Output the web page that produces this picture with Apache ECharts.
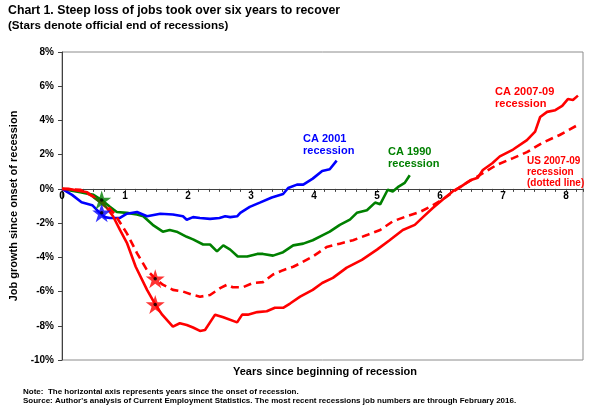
<!DOCTYPE html>
<html>
<head>
<meta charset="utf-8">
<script src="https://cdn.jsdelivr.net/npm/echarts@6/dist/echarts.min.js"></script>
<style>
  html, body { margin: 0; padding: 0; background: #fff; }
  #chart { width: 600px; height: 408px; }
</style>
</head>
<body>
<div id="chart"></div>
<script>
// Years since onset of recession, and job growth (%)
const ca2001Years = [0, 0.16, 0.31, 0.48, 0.6, 0.68, 0.76, 0.92, 1.03, 1.19, 1.35, 1.56, 1.76, 1.92, 1.98, 2.08, 2.19, 2.35, 2.5, 2.59, 2.67, 2.78, 2.83, 2.98, 3.14, 3.33, 3.51, 3.59, 3.73, 3.83, 3.98, 4.13, 4.25, 4.36];
const ca2001Jobs = [0, -0.35, -0.78, -0.95, -1.4, -1.65, -1.7, -1.7, -1.45, -1.35, -1.6, -1.45, -1.5, -1.6, -1.8, -1.65, -1.7, -1.75, -1.7, -1.6, -1.65, -1.6, -1.4, -1.05, -0.8, -0.5, -0.3, 0.05, 0.25, 0.25, 0.6, 1.05, 1.15, 1.65];

const ca1990Years = [0, 0.29, 0.5, 0.63, 0.76, 0.87, 1.03, 1.19, 1.29, 1.44, 1.6, 1.71, 1.82, 1.98, 2.08, 2.24, 2.35, 2.46, 2.56, 2.67, 2.79, 2.94, 3.1, 3.19, 3.35, 3.51, 3.67, 3.83, 3.98, 4.14, 4.25, 4.41, 4.57, 4.68, 4.84, 4.97, 5.05, 5.17, 5.25, 5.33, 5.44, 5.52];
const ca1990Jobs = [0, -0.2, -0.35, -0.65, -1.05, -1.35, -1.4, -1.5, -1.6, -2.1, -2.5, -2.4, -2.5, -2.8, -2.95, -3.25, -3.25, -3.65, -3.3, -3.55, -3.95, -3.95, -3.8, -3.8, -3.9, -3.7, -3.3, -3.2, -3.0, -2.7, -2.5, -2.1, -1.8, -1.4, -1.25, -0.8, -0.9, -0.05, -0.15, 0.1, 0.35, 0.8];

const ca2007Years = [0, 0.1, 0.4, 0.6, 0.71, 0.81, 0.92, 1.03, 1.17, 1.35, 1.48, 1.59, 1.76, 1.87, 1.98, 2.08, 2.19, 2.27, 2.43, 2.56, 2.78, 2.86, 2.95, 3.1, 3.25, 3.38, 3.51, 3.62, 3.78, 3.98, 4.13, 4.3, 4.52, 4.76, 5.0, 5.2, 5.41, 5.6, 5.73, 5.89, 6.05, 6.2, 6.32, 6.48, 6.6, 6.68, 6.83, 6.95, 7.16, 7.38, 7.51, 7.59, 7.7, 7.83, 7.94, 8.03, 8.11, 8.19];
const ca2007Jobs = [0, 0, -0.2, -0.75, -1.1, -1.6, -2.4, -3.15, -4.55, -5.9, -6.75, -7.35, -8.05, -7.85, -7.95, -8.1, -8.3, -8.25, -7.35, -7.5, -7.8, -7.35, -7.35, -7.2, -7.15, -6.95, -6.95, -6.7, -6.3, -5.9, -5.5, -5.2, -4.6, -4.15, -3.55, -3.0, -2.4, -2.1, -1.65, -1.1, -0.6, -0.15, 0.1, 0.5, 0.65, 1.1, 1.5, 1.9, 2.3, 2.85, 3.35, 4.2, 4.5, 4.6, 4.85, 5.25, 5.2, 5.45];

const us2007Years = [0, 0.29, 0.55, 0.71, 0.84, 1.03, 1.19, 1.35, 1.48, 1.6, 1.76, 1.92, 2.08, 2.19, 2.35, 2.51, 2.62, 2.71, 2.87, 3.03, 3.19, 3.35, 3.51, 3.67, 3.78, 3.98, 4.2, 4.41, 4.62, 4.84, 5.05, 5.25, 5.47, 5.68, 5.89, 6.05, 6.2, 6.37, 6.63, 6.9, 7.16, 7.38, 7.63, 7.9, 8.17];
const us2007Jobs = [0, -0.05, -0.55, -0.95, -1.5, -2.6, -3.75, -4.75, -5.25, -5.6, -5.9, -6.0, -6.2, -6.3, -6.2, -5.8, -5.6, -5.75, -5.75, -5.5, -5.45, -5.0, -4.75, -4.55, -4.35, -3.95, -3.4, -3.2, -3.0, -2.7, -2.4, -1.9, -1.6, -1.35, -0.95, -0.6, -0.2, 0.25, 0.8, 1.4, 1.8, 2.15, 2.7, 3.15, 3.7];

// Official end of each recession (stars)
const endYears = [0.63, 0.63, 1.48, 1.48];
const endJobs = [-1.4, -0.65, -6.75, -5.25];
const endColors = ['#0000ff', '#008000', '#ff0000', '#ff0000'];

const yTicks = [-10, -8, -6, -4, -2, 0, 2, 4, 6, 8];

const BLUE = '#0000ff';
const GREEN = '#008000';
const RED = '#ff0000';
const FONT = 'Liberation Sans, Arial, sans-serif';
const STAR = 'path://M50,0 L61.8,35.1 L98.9,35.1 L68.8,56.8 L80.9,91.9 L50,70.2 L19.1,91.9 L31.2,56.8 L1.1,35.1 L38.2,35.1 Z';

const GRID_TOP = 52, GRID_BOTTOM = 48, CHART_H = 408;
const plotH = CHART_H - GRID_TOP - GRID_BOTTOM;
const yMin = yTicks[0], yMax = yTicks[yTicks.length - 1];
// lift the x axis from the bottom edge of the grid to the 0% line
const zeroLift = plotH * (0 - yMin) / (yMax - yMin);

function pairs(xs, ys) {
  return xs.map((x, i) => [x, ys[i]]);
}

function lineSeries(name, xs, ys, color, dashed) {
  return {
    name: name,
    type: 'line',
    data: pairs(xs, ys),
    showSymbol: false,
    symbol: 'none',
    lineStyle: { color: color, width: 2.6, type: dashed ? [8, 5] : 'solid' },
    z: 2
  };
}

function label(text, x, y, color, size, align) {
  return {
    type: 'text',
    x: x,
    y: y,
    style: {
      text: text, fill: color, font: 'bold ' + size + 'px ' + FONT,
      lineHeight: Math.round(size) + 1, align: align || 'left'
    }
  };
}

const chart = echarts.init(document.getElementById('chart'), null, { renderer: 'canvas' });

chart.setOption({
  animation: false,
  grid: {
    left: 62, right: 17, top: GRID_TOP, bottom: GRID_BOTTOM,
    outerBoundsMode: 'none',
    containLabel: false,
    show: true, borderColor: '#8c8c8c', borderWidth: 1
  },
  xAxis: {
    type: 'value',
    min: 0,
    max: 8.27,
    interval: 1,
    position: 'bottom',
    offset: -zeroLift,
    axisLine: { onZero: false, lineStyle: { color: '#404040', width: 1 } },
    axisTick: { show: true, length: 3, lineStyle: { color: '#404040' } },
    minorTick: { show: true, splitNumber: 6, length: 3, lineStyle: { color: '#404040' } },
    axisLabel: {
      showMaxLabel: false,
      margin: 2,
      fontFamily: FONT, fontWeight: 'bold', fontSize: 10, color: '#000'
    },
    splitLine: { show: false }
  },
  yAxis: {
    type: 'value',
    min: yMin,
    max: yMax,
    interval: 2,
    name: 'Job growth since onset of recession',
    nameLocation: 'middle',
    nameGap: 37,
    nameRotate: 90,
    nameTextStyle: { fontFamily: FONT, fontWeight: 'bold', fontSize: 11, color: '#000' },
    axisLine: { show: true, lineStyle: { color: '#404040', width: 1 } },
    axisTick: { show: true, length: 4, lineStyle: { color: '#404040' } },
    axisLabel: {
      formatter: v => v + '%',
      margin: 8,
      fontFamily: FONT, fontWeight: 'bold', fontSize: 10, color: '#000'
    },
    splitLine: { show: false }
  },
  series: [
    lineSeries('CA 1990 recession', ca1990Years, ca1990Jobs, GREEN, false),
    lineSeries('CA 2001 recession', ca2001Years, ca2001Jobs, BLUE, false),
    lineSeries('US 2007-09 recession', us2007Years, us2007Jobs, RED, true),
    lineSeries('CA 2007-09 recession', ca2007Years, ca2007Jobs, RED, false),
    {
      name: 'Recession end',
      type: 'scatter',
      symbol: STAR,
      symbolSize: 19,
      data: endYears.map((x, i) => ({ value: [x, endJobs[i]], itemStyle: { color: endColors[i] } })),
      z: 5
    },
    {
      name: 'Recession end dot',
      type: 'scatter',
      symbol: 'circle',
      symbolSize: 3.5,
      itemStyle: { color: '#000' },
      data: pairs(endYears, endJobs),
      z: 6
    }
  ],
  graphic: [
    label('Chart 1. Steep loss of jobs took over six years to recover', 8, 4, '#000', 12.3),
    label('(Stars denote official end of recessions)', 8, 19, '#000', 11.6),
    label('CA 2001\nrecession', 303, 133, BLUE, 11),
    label('CA 1990\nrecession', 388, 146, GREEN, 11),
    label('CA 2007-09\nrecession', 495, 86, RED, 11),
    label('US 2007-09\nrecession\n(dotted line)', 527, 156, RED, 10),
    label('Years since beginning of recession', 325, 366, '#000', 11, 'center'),
    label('Note:  The horizontal axis represents years since the onset of recession.', 23, 387, '#000', 8),
    label('Source: Author\'s analysis of Current Employment Statistics. The most recent recessions job numbers are through February 2016.', 23, 396, '#000', 8)
  ]
});
</script>
</body>
</html>
